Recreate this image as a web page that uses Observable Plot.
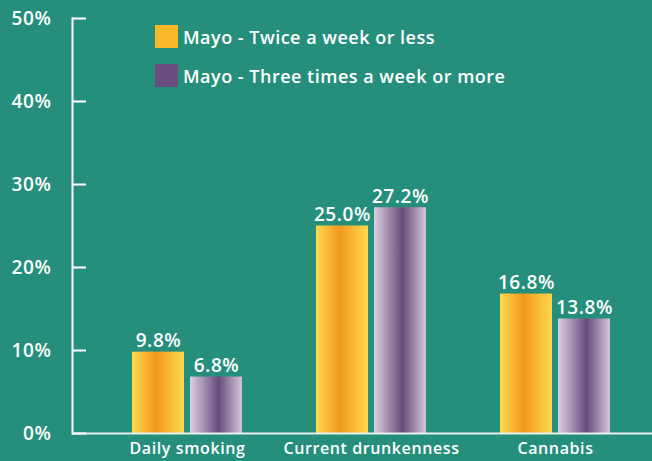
<!DOCTYPE html>
<html>
<head>
<meta charset="utf-8">
<script src="https://cdn.jsdelivr.net/npm/d3@7"></script>
<script src="https://cdn.jsdelivr.net/npm/@observablehq/plot@0.6"></script>
<style>
  html, body { margin: 0; padding: 0; background: #258F7B; }
  #wrap { position: relative; width: 652px; height: 461px; font-family: "Open Sans", sans-serif; }
  .legend { position: absolute; left: 155px; top: 25px; color: #fff; font-weight: 600; font-size: 18px; letter-spacing: 0.5px; }
  .legend .row { display: flex; align-items: center; height: 23px; margin-bottom: 16px; }
  .legend .sw { width: 23px; height: 23px; margin-right: 5px; }
</style>
</head>
<body>
<div id="wrap"></div>
<script>
const categories = ["Daily smoking", "Current drunkenness", "Cannabis"];
const seriesNames = ["Mayo - Twice a week or less", "Mayo - Three times a week or more"];
const twiceOrLess = [9.8, 25.0, 16.8];
const threeOrMore = [6.8, 27.2, 13.8];
const yTicks = [0, 10, 20, 30, 40, 50];
const seriesColors = ["#FDB827", "#6A4C7E"];

const rowsA = categories.map((c, i) => ({category: c, value: twiceOrLess[i]}));
const rowsB = categories.map((c, i) => ({category: c, value: threeOrMore[i]}));

const white = "#ffffff";
const fmt = v => v.toFixed(1) + "%";

function gradient(defsSel, id, stops) {
  const g = defsSel.append("linearGradient").attr("id", id)
    .attr("x1", 0).attr("x2", 1).attr("y1", 0).attr("y2", 0);
  stops.forEach(([o, c]) => g.append("stop").attr("offset", o).attr("stop-color", c));
}
const defs = () => {
  const d = d3.create("svg:defs");
  gradient(d, "gradA", [[0, "#FFDA4C"], [0.45, "#F29820"], [1, "#FFD84A"]]);
  gradient(d, "gradB", [[0, "#DCCFE0"], [0.55, "#694B7C"], [1, "#D3C5D9"]]);
  return d.node();
};

const chart = Plot.plot({
  width: 652,
  height: 461,
  marginLeft: 72,
  marginRight: 0,
  marginTop: 18,
  marginBottom: 28,
  style: {background: "transparent", color: white, fontFamily: "'Open Sans', sans-serif", letterSpacing: "0.6px", overflow: "visible"},
  x: {domain: categories, range: [95, 647], padding: 0, label: null},
  y: {domain: [0, 50], label: null},
  marks: [
    defs,
    Plot.barY(rowsA, {x: "category", y: "value", fill: "url(#gradA)", insetLeft: 37, insetRight: 95}),
    Plot.barY(rowsB, {x: "category", y: "value", fill: "url(#gradB)", insetLeft: 95, insetRight: 37}),
    Plot.text(rowsA, {x: "category", y: "value", text: d => fmt(d.value), dx: -29, dy: -5, lineAnchor: "bottom", fill: white, fontSize: 19, fontWeight: 600}),
    Plot.text(rowsB, {x: "category", y: "value", text: d => fmt(d.value), dx: 29, dy: -5, lineAnchor: "bottom", fill: white, fontSize: 19, fontWeight: 600}),
    Plot.frame({anchor: "left", stroke: white, strokeWidth: 2}),
    Plot.ruleY([0], {stroke: "#e8f0ee", strokeWidth: 2}),
    Plot.axisY({ticks: yTicks, tickSize: -14, tickFormat: () => "", stroke: white, strokeWidth: 2}),
    Plot.axisY({ticks: yTicks, tickSize: 0, tickPadding: 21, tickFormat: d => d + "%", fontSize: 19, fontWeight: 600, fill: white}),
    Plot.axisX({tickSize: 0, tickPadding: 9, fontSize: 16, fontWeight: 600, fill: white})
  ]
});

const wrap = document.getElementById("wrap");
wrap.appendChild(chart);

const legend = document.createElement("div");
legend.className = "legend";
seriesNames.forEach((name, i) => {
  const row = document.createElement("div");
  row.className = "row";
  const sw = document.createElement("div");
  sw.className = "sw";
  sw.style.background = seriesColors[i];
  const label = document.createElement("span");
  label.textContent = name;
  row.appendChild(sw);
  row.appendChild(label);
  legend.appendChild(row);
});
wrap.appendChild(legend);
</script>
</body>
</html>
